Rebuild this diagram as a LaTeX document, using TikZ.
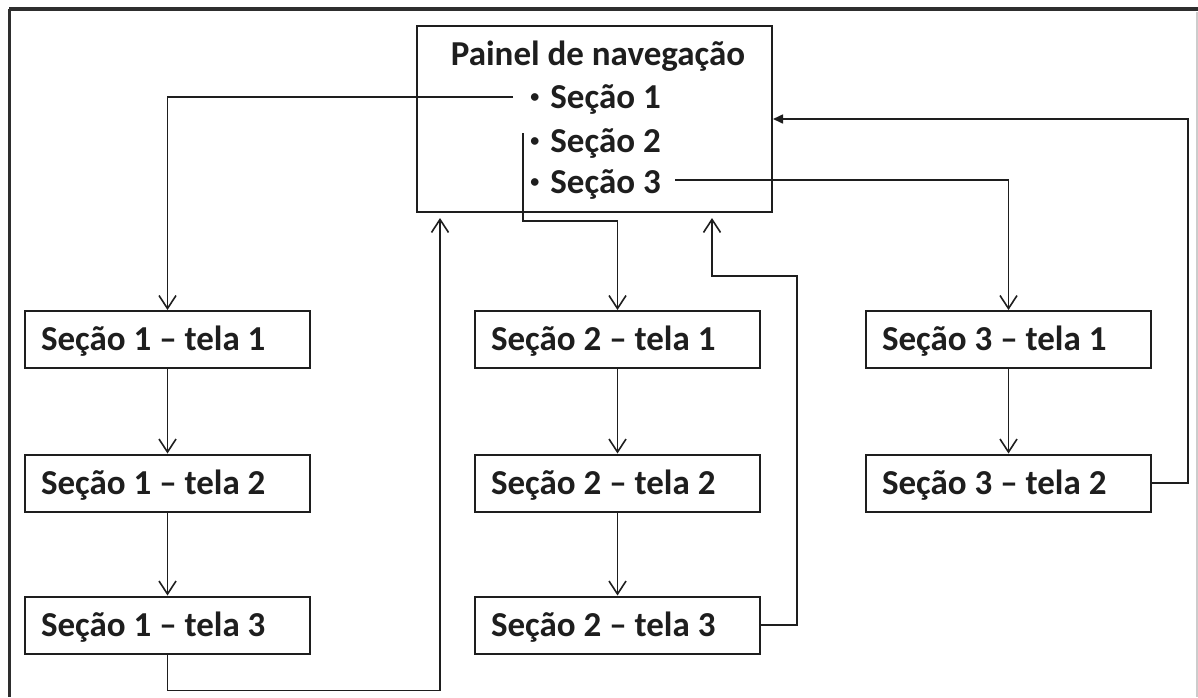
\documentclass[tikz,border=0pt]{standalone}
\usepackage{fontspec}
\setmainfont{Carlito}
\usetikzlibrary{arrows.meta}
\definecolor{ink}{HTML}{1E1E1E}
\definecolor{framegray}{HTML}{2E2E2E}
\newcommand{\navbullet}{\makebox[12.5pt][l]{\hspace{2.5pt}\raisebox{2.6pt}{\fontsize{9}{9}\selectfont •}}}
\newcommand{\screentext}[1]{\makebox[126.5pt][l]{#1}}
\begin{document}
\begin{tikzpicture}[x=0.5pt,y=-0.5pt,
  lbl/.style={font=\fontsize{17.5}{21}\selectfont\bfseries, text=ink},
  screen/.style={lbl, draw=ink, line width=1pt, fill=white,
    minimum width=142.5pt, minimum height=28.5pt, inner xsep=8pt,
    text height=11.25pt, text depth=0pt},
  item/.style={lbl, inner sep=0pt, anchor=base west,
    text height=11.25pt, text depth=0pt},
  conn/.style={draw=ink, line width=0.8pt},
  open/.style={conn, -{Straight Barb[length=6.5pt,width=8.5pt]}},
  solid tip/.style={conn, -{Triangle[length=5pt,width=4.5pt]}}]

\useasboundingbox (0,0) rectangle (1198,697);

% window frame
\draw[framegray, line width=2pt] (9,9) -- (1198,9);
\draw[framegray, line width=1.5pt] (9.5,9) -- (9.5,697);
\draw[black!20, line width=0.6pt] (1197,12) -- (1197,697);

% navigation panel
\node[draw=ink, line width=1pt, minimum width=177.5pt, minimum height=93pt]
  (painel) at (594.5,119) {};
\node[lbl, anchor=base] (titulo) at (598,65) {Painel de navegação};
\node[item] (s1) at (525,108) {\navbullet Seção 1};
\node[item] (s2) at (525,152) {\navbullet Seção 2};
\node[item] (s3) at (525,193) {\navbullet Seção 3};

% screens
\node[screen] (a1) at (167.5,339.5) {\screentext{Seção 1 – tela 1}};
\node[screen] (a2) at (167.5,483)   {\screentext{Seção 1 – tela 2}};
\node[screen] (a3) at (167.5,625)   {\screentext{Seção 1 – tela 3}};
\node[screen] (b1) at (617.5,339.5) {\screentext{Seção 2 – tela 1}};
\node[screen] (b2) at (617.5,483)   {\screentext{Seção 2 – tela 2}};
\node[screen] (b3) at (617.5,625)   {\screentext{Seção 2 – tela 3}};
\node[screen] (c1) at (1008.5,339.5) {\screentext{Seção 3 – tela 1}};
\node[screen] (c2) at (1008.5,483)   {\screentext{Seção 3 – tela 2}};

% from the panel to the first screen of each section
\draw[open] ([xshift=-6pt]s1.west) -| (a1.north);
\draw[open] ([xshift=-1pt,yshift=-2pt]s2.north west) -- ++(0,88) -| (b1.north);
\draw[open] ([xshift=7pt,yshift=1pt]s3.east) -| (c1.north);

% within each section
\draw[open] (a1.south) -- (a2.north);
\draw[open] (a2.south) -- (a3.north);
\draw[open] (b1.south) -- (b2.north);
\draw[open] (b2.south) -- (b3.north);
\draw[open] (c1.south) -- (c2.north);

% back to the panel
\draw[open] (a3.south) -- ++(0,36) -| ([xshift=-77.25pt,yshift=-2.5pt]painel.south);
\draw[open] (b3.east) -- ++(36,0) -- ++(0,-349) -| ([xshift=58.75pt,yshift=-2.5pt]painel.south);
\draw[solid tip] (c2.east) -- ++(36,0) |- (painel.east);
\end{tikzpicture}
\end{document}
